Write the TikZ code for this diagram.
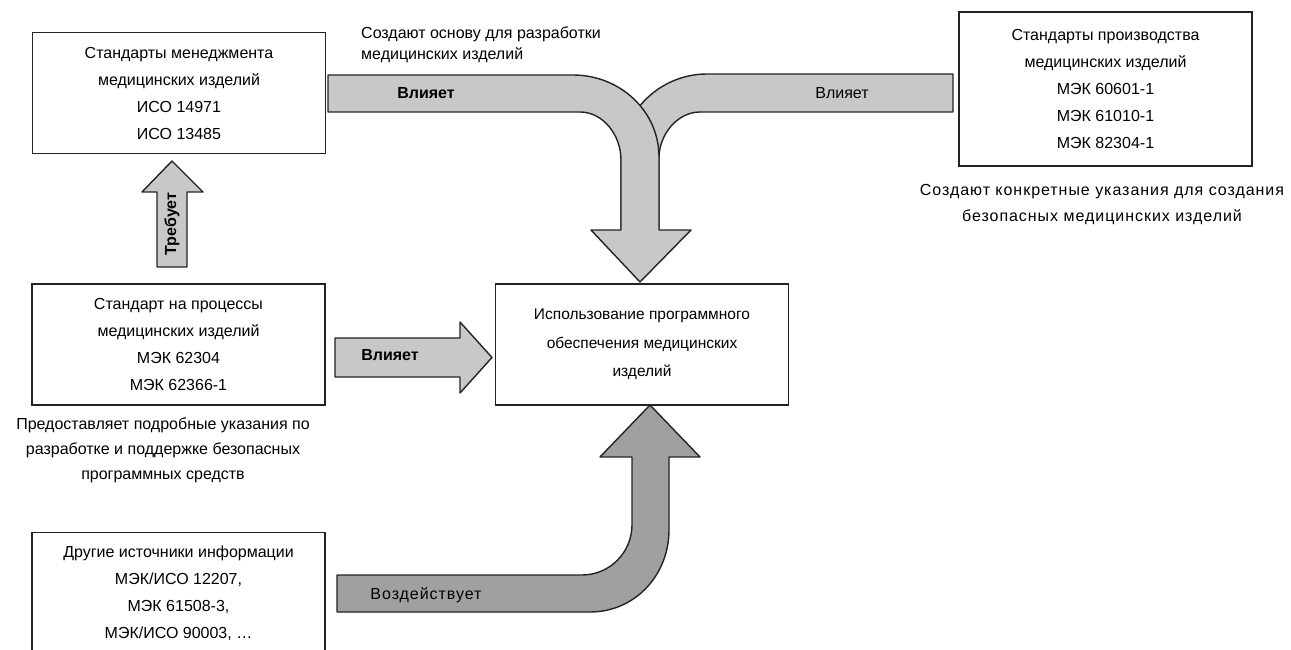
\documentclass[tikz,border=0pt]{standalone}
\usepackage{fontspec}
\setmainfont{Liberation Sans}
\newfontfamily\widefont[LetterSpace=6]{Liberation Sans}
\usepackage{tikz}
\usetikzlibrary{positioning}
\definecolor{lightarrow}{RGB}{200,200,200}
\definecolor{darkarrow}{RGB}{160,160,160}
\definecolor{edge}{RGB}{35,35,35}
\tikzset{>=latex}

\begin{document}
\begin{tikzpicture}[x=1pt, y=-1pt,
            box/.style={draw=edge, line width=1.5pt, minimum width=293pt, minimum height=121pt, align=center, inner sep=0pt, font=\fontsize{16}{27}\selectfont},
            barrow/.style={draw=edge, line width=1.4pt, fill=lightarrow, line join=round},
            note/.style={align=center, inner sep=0pt, font=\fontsize{16}{26}\selectfont}
        ]
        \useasboundingbox (0,0) rectangle (1291,650);
        \clip (0,0) rectangle (1291,650);
        % boxes
        \node[box] (mgmt) at (179,93) {Стандарты менеджмента\\медицинских изделий\\ИСО 14971\\ИСО 13485};
        \node[box, minimum height=154pt] (prod) at (1105.5,89) {Стандарты производства\\медицинских изделий\\МЭК 60601-1\\МЭК 61010-1\\МЭК 82304-1};
        \node[box] (proc) at (178.5,344.5) {Стандарт на процессы\\медицинских изделий\\МЭК 62304\\МЭК 62366-1};
        \node[box, font=\fontsize{15.5}{28.5}\selectfont] (use) at (642,344.5) {Использование программного\\обеспечения медицинских\\изделий};
        \node[box] (other) at (178.5,593) {Другие источники информации\\МЭК/ИСО 12207,\\МЭК 61508-3,\\МЭК/ИСО 90003, …};
        % notes
        \node[note, align=left, anchor=west, font=\fontsize{16}{21}\selectfont] (mgmtnote) at (361,44.5) {Создают основу для разработки\\медицинских изделий};
        \node[note, font=\widefont\fontsize{16}{26}\selectfont] (prodnote) at (1102,205) {Создают конкретные указания для создания\\безопасных медицинских изделий};
        \node[note, font=\fontsize{16}{25}\selectfont] (procnote) at (163,450.5) {Предоставляет подробные указания по\\разработке и поддержке безопасных\\программных средств};
        % arrows into the top box
        \draw[barrow] (953,74) -- (707,74) .. controls (660,74) and (621,112) .. (621,158) -- (621,230) -- (659,230) -- (659,158) .. controls (659,135) and (677,112) .. (700,112) -- (953,112) -- cycle;
        \draw[barrow] (328,75) -- (573,75) .. controls (620,75) and (659,111) .. (659,157) -- (659,230) -- (691,230) -- (640,282) -- (591,230) -- (621,230) -- (621,160) .. controls (621,135) and (603,112) .. (580,112) -- (328,112) -- cycle;
        \node[font=\bfseries\fontsize{16}{18}\selectfont] (infl1) at (426,93) {Влияет};
        \node[font=\fontsize{16}{18}\selectfont] (infl2) at (842,93) {Влияет};
        % requires
        \draw[barrow] (157,267) -- (157,192) -- (142,192) -- (172,161) -- (203,192) -- (187,192) -- (187,267) -- cycle;
        \node[rotate=90, font=\bfseries\fontsize{16}{18}\selectfont] (req) at (172,224) {Требует};
        % process standard
        \draw[barrow] (335,338) -- (460,338) -- (460,322) -- (492,357.5) -- (460,393) -- (460,377) -- (335,377) -- cycle;
        \node[font=\bfseries\fontsize{16}{18}\selectfont] (infl3) at (390,355) {Влияет};
        % other sources
        \draw[barrow, fill=darkarrow] (337,575) -- (582,575) .. controls (610,575) and (632,552) .. (632,525) -- (632,457) -- (600,457) -- (650,405) -- (700,457) -- (669,457) -- (669,530) .. controls (669,575) and (635,612) .. (590,612) -- (337,612) -- cycle;
        \node[font=\widefont\fontsize{16}{18}\selectfont] (impact) at (426,595) {Воздействует};
        \end{tikzpicture}
\end{document}
